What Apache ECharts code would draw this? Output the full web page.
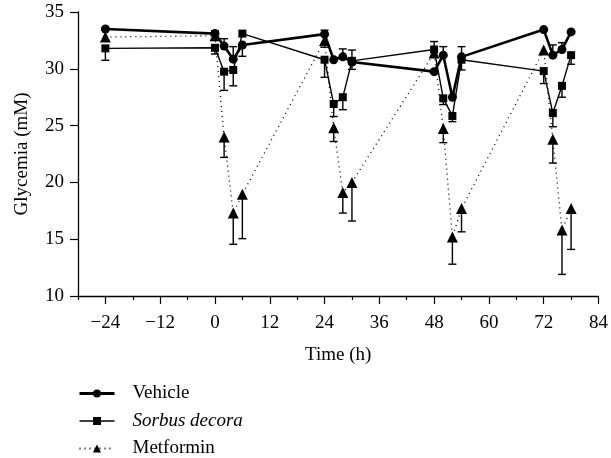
<!DOCTYPE html>
<html><head><meta charset="utf-8">
<script src="https://cdn.jsdelivr.net/npm/echarts@6/dist/echarts.min.js"></script>
<style>html,body{margin:0;padding:0;background:#fff}#c{width:611px;height:458px}</style>
</head><body><div id="c"></div>
<script>
const times = [-24, 0, 2, 4, 6, 24, 26, 28, 30, 48, 50, 52, 54, 72, 74, 76, 78];
const vehicle = [33.5, 33.1, 32.0, 30.85, 32.1, 33.05, 30.8, 31.05, 30.6, 29.75, 31.2, 27.5, 31.05, 33.45, 31.2, 31.7, 33.25];
const vehicleErrEnd = [null, 33.35, 32.65, 31.95, 31.1, 33.4, null, 31.75, 31.65, null, 31.95, null, 31.95, null, 32.1, 32.3, null];
const sorbus = [31.8, 31.85, 29.75, 29.9, 33.1, 30.8, 26.9, 27.5, 30.7, 31.7, 27.4, 25.85, 30.8, 29.8, 26.1, 28.5, 31.2];
const sorbusErrEnd = [30.75, 31.3, 28.1, 28.5, null, 29.25, 25.8, 26.4, 29.95, 32.4, 26.85, 25.35, 29.9, 28.7, 24.9, 27.5, 30.4];
const metformin = [32.8, 32.9, 24.0, 17.3, 18.95, 32.5, 24.8, 19.1, 20.0, 31.4, 24.75, 15.2, 17.7, 31.65, 23.8, 15.8, 17.7];
const metforminErrEnd = [null, null, 22.2, 14.55, 15.05, 31.9, 23.6, 17.3, 16.6, null, 23.5, 12.8, 15.65, null, 21.7, 11.9, 14.1];
const xMajorTicks = [-24, -12, 0, 12, 24, 36, 48, 60, 72, 84];
const xMinorTicks = [-30, -18, -6, 6, 18, 30, 42, 54, 66, 78];
const seriesNames = ['Vehicle', 'Sorbus decora', 'Metformin'];

const FONT = '"Liberation Serif", "DejaVu Serif", serif';
const FS = 19;
const pair = (ys) => times.map((t, i) => [t, ys[i]]);
const errData = (ys, ends) => times.map((t, i) => [t, ys[i], ends[i]]).filter(d => d[2] !== null);
function errSeries(ys, ends) {
  return {
    type: 'custom', silent: true, z: 1,
    data: errData(ys, ends),
    renderItem: function (params, api) {
      const p = api.coord([api.value(0), api.value(1)]);
      const e = api.coord([api.value(0), api.value(2)]);
      const st = { stroke: '#000', lineWidth: 1.4 };
      return { type: 'group', children: [
        { type: 'line', shape: { x1: p[0], y1: p[1], x2: e[0], y2: e[1] }, style: st },
        { type: 'line', shape: { x1: e[0] - 4, y1: e[1], x2: e[0] + 4, y2: e[1] }, style: st }
      ] };
    }
  };
}
const fmtNum = v => (v < 0 ? '\u2212' + Math.abs(v) : String(v));

const chart = echarts.init(document.getElementById('c'), null, { renderer: 'canvas' });
chart.setOption({
  animation: false,
  backgroundColor: '#fff',
  grid: { left: 78, right: 11, top: 12, bottom: 162, containLabel: false },
  xAxis: [{
    type: 'value', min: -30, max: 84,
    name: 'Time (h)', nameLocation: 'middle', nameGap: 50,
    nameTextStyle: { fontFamily: FONT, fontSize: FS, color: '#000' },
    axisLine: { onZero: false, lineStyle: { color: '#000', width: 1.3 } },
    axisTick: { show: true, length: 8, customValues: xMajorTicks, lineStyle: { color: '#000', width: 1.2 } },
    axisLabel: { customValues: xMajorTicks, formatter: fmtNum, fontFamily: FONT, fontSize: FS, color: '#000', margin: 18 },
    splitLine: { show: false }
  }, {
    type: 'value', min: -30, max: 84, position: 'bottom',
    axisLine: { show: false, onZero: false },
    axisTick: { show: true, length: 4, customValues: xMinorTicks, lineStyle: { color: '#000', width: 1.2 } },
    axisLabel: { show: false },
    splitLine: { show: false }
  }],
  yAxis: {
    type: 'value', min: 10, max: 35, interval: 5,
    name: 'Glycemia (mM)', nameLocation: 'middle', nameGap: 46,
    nameTextStyle: { fontFamily: FONT, fontSize: FS, color: '#000' },
    axisLine: { show: true, onZero: false, lineStyle: { color: '#000', width: 1.3 } },
    axisTick: { show: true, length: 8, lineStyle: { color: '#000', width: 1.2 } },
    axisLabel: { fontFamily: FONT, fontSize: FS, color: '#000', margin: 14 },
    splitLine: { show: false }
  },
  legend: {
    data: [
      { name: seriesNames[0], lineStyle: { width: 3 } },
      { name: seriesNames[1], lineStyle: { width: 1.5 } },
      { name: seriesNames[2] }
    ],
    orient: 'vertical', left: 78, top: 384,
    itemWidth: 35, itemHeight: 10, itemGap: 8.5, padding: 0,
    textStyle: { fontFamily: FONT, fontSize: FS, color: '#000', padding: [0, 0, 0, 13],
      rich: { i: { fontFamily: FONT, fontSize: FS, fontStyle: 'italic', color: '#000' } } },
    formatter: n => n === 'Sorbus decora' ? '{i|' + n + '}' : n
  },
  series: [
    errSeries(metformin, metforminErrEnd),
    errSeries(sorbus, sorbusErrEnd),
    errSeries(vehicle, vehicleErrEnd),
    { name: 'Metformin', type: 'line', data: pair(metformin), z: 2,
      symbol: 'triangle', symbolSize: 11,
      itemStyle: { color: '#000' },
      lineStyle: { color: '#000', width: 1.3, type: [1, 4] } },
    { name: 'Sorbus decora', type: 'line', data: pair(sorbus), z: 3,
      symbol: 'rect', symbolSize: 8,
      itemStyle: { color: '#000' },
      lineStyle: { color: '#000', width: 1.4 } },
    { name: 'Vehicle', type: 'line', data: pair(vehicle), z: 4,
      symbol: 'circle', symbolSize: 9,
      itemStyle: { color: '#000' },
      lineStyle: { color: '#000', width: 2.6 } }
  ]
});
</script></body></html>
